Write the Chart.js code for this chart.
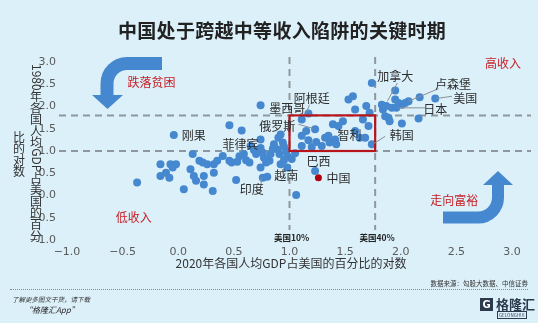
<!DOCTYPE html>
<html>
<head>
<meta charset="utf-8">
<script src="https://cdn.jsdelivr.net/npm/chart.js@4"></script>
<style>
  body { margin: 0; background: #dcf0fa; font-family: "Noto Sans CJK SC", "Noto Sans", sans-serif; }
  #wrap { position: relative; width: 538px; height: 323px; overflow: hidden; }
  #chart { position: absolute; left: 0; top: 0; }
  .txt { position: absolute; white-space: nowrap; }
  #title { left: 118px; top: 16px; font-size: 19px; font-weight: bold; color: #222; letter-spacing: 0.3px; }
  #rule { left: 10px; top: 289px; width: 518px; border-top: 1px dotted #8a8a8a; }
  #source { right: 10px; top: 278px; font-size: 6.5px; color: #333; }
  #tip1 { left: 12px; top: 294px; font-size: 6.5px; font-style: italic; color: #333; }
  #tip2 { left: 24px; top: 304px; font-size: 8px; font-style: italic; color: #222; }
  #logoBox { left: 480px; top: 298px; width: 13px; height: 13px; background: #2b3a4c; color: #fff; font: bold 10px "DejaVu Sans"; text-align: center; line-height: 13px; }
  #logoTxt { left: 496px; top: 294px; font-size: 13px; font-weight: bold; color: #2b3a4c; }
  #logoSub { left: 497px; top: 311px; font-size: 4.5px; color: #2b3a4c; border: 0.5px solid #2b3a4c; padding: 0 1px; }
</style>
</head>
<body>
<div id="wrap">
  <canvas id="chart" width="538" height="323"></canvas>
  <div class="txt" id="title">中国处于跨越中等收入陷阱的关键时期</div>
  <div class="txt" id="source">数据来源：勾股大数据、中信证券</div>
  <div class="txt" id="rule"></div>
  <div class="txt" id="tip1">了解更多图文干货，请下载</div>
  <div class="txt" id="tip2">“格隆汇App”</div>
  <div class="txt" id="logoBox">G</div>
  <div class="txt" id="logoTxt">格隆汇</div>
  <div class="txt" id="logoSub">GELONGHUI</div>
</div>
<script>
// log of 2020 GDP per capita share of US (x) vs 1980 share (y)
const countryX = [
  -0.37, -0.04, -0.16, -0.11, -0.08, -0.16, -0.07, -0.02, -0.05, 0.05,
  0.13, 0.11, 0.14, 0.19, 0.22, 0.23, 0.23, 0.16, 0.31, 0.26,
  0.32, 0.32, 0.35, 0.40, 0.46, 0.46, 0.52, 0.53, 0.57, 0.59,
  0.61, 0.64, 0.65, 0.70, 0.74, 0.74, 0.74, 0.76, 0.77, 0.79,
  0.74, 0.76, 0.80, 0.82, 0.83, 0.86, 0.89, 0.91, 0.92, 0.94,
  0.95, 0.97, 0.98, 1.06, 1.11, 1.17, 1.11, 1.15, 1.17, 1.11,
  1.23, 1.23, 1.24, 1.20, 1.29, 1.32, 1.35, 1.36, 1.39, 1.41,
  1.42, 1.44, 1.48, 1.53, 1.57, 1.59, 1.59, 1.63, 1.66, 1.69,
  1.71, 1.68, 1.74, 1.74, 1.72, 1.83, 1.84, 1.86, 1.89, 1.90,
  1.87, 1.92, 1.95, 1.95, 1.96, 1.98, 2.01, 2.01, 2.04, 2.07,
  2.16, 2.17, 2.31, 0.90, 0.95, 0.98, 0.92, 1.02, 1.05, 0.85,
  0.68, 0.55, 0.48
];
const countryY = [
  0.29, 1.36, 0.44, 0.51, 0.40, 0.70, 0.70, 0.70, 0.63, 0.14,
  0.93, 0.59, 0.44, 0.78, 0.74, 0.44, 0.25, 0.33, 0.10, 0.70,
  0.70, 0.51, 0.78, 0.89, 1.58, 0.78, 0.35, 0.76, 1.46, 0.93,
  0.79, 0.74, 1.11, 0.93, 2.03, 1.26, 1.07, 0.96, 0.85, 0.74,
  0.63, 0.40, 0.42, 0.78, 0.93, 1.15, 1.04, 0.93, 1.37, 1.19,
  0.79, 1.00, 0.63, 0.01, 1.71, 1.84, 1.34, 1.45, 1.24, 1.11,
  1.49, 0.55, 1.20, 1.09, 1.11, 1.30, 1.34, 1.19, 1.60, 1.26,
  1.15, 1.56, 1.67, 2.16, 2.23, 1.93, 1.45, 1.30, 1.71, 2.01,
  1.56, 1.30, 2.53, 1.15, 1.86, 2.04, 1.93, 1.78, 1.75, 1.67,
  2.01, 1.97, 2.36, 2.16, 1.97, 2.08, 2.04, 1.62, 2.08, 2.12,
  1.73, 2.21, 2.18, 1.30, 1.10, 0.88, 0.70, 0.82, 0.95, 1.05,
  1.02, 0.88, 0.74
];
const chinaX = [1.26];
const chinaY = [0.40];

const tickValues = [-1.0, -0.5, 0.0, 0.5, 1.0, 1.5, 2.0, 2.5, 3.0];

// country names and where they sit (data units)
const countryNames = ["加拿大", "卢森堡", "美国", "日本", "韩国", "阿根廷", "墨西哥", "俄罗斯",
  "智利", "菲律宾", "刚果", "巴西", "越南", "中国", "印度"];
const nameX = [1.95, 2.47, 2.58, 2.31, 2.01, 1.20, 0.98, 0.89, 1.54, 0.56, 0.14, 1.26, 0.97, 1.44, 0.66];
const nameY = [2.68, 2.49, 2.18, 1.93, 1.35, 2.18, 1.95, 1.56, 1.34, 1.15, 1.34, 0.76, 0.44, 0.39, 0.14];

// leader lines x1, y1, x2, y2
const leaders = [
  [1.97, 2.53, 1.88, 2.12],
  [2.34, 2.40, 2.07, 2.12],
  [2.46, 2.23, 2.32, 2.18],
  [2.22, 1.97, 1.98, 1.97],
  [1.86, 1.33, 1.76, 1.17],
  [1.18, 2.04, 1.15, 1.86],
  [1.08, 1.60, 1.21, 1.51],
  [0.745, 0.21, 0.745, 0.40]
];

const zoneNames = ["跌落贫困", "高收入", "低收入", "走向富裕"];
const zoneX = [-0.24, 2.92, -0.40, 2.48];
const zoneY = [2.53, 2.96, -0.49, -0.12];

const refX = [1.0, 1.77];
const refY = [1.0, 1.8];
const refXLabels = ["美国10%", "美国40%"];

const blue = "#4588cf";
const red = "#c62026";

function fmt(v) {
  return v.toFixed(1).replace("-", "−");
}

function verticalText(ctx, text, x, y, size) {
  const runs = text.match(/[0-9A-Za-z]+|./g);
  for (const r of runs) {
    if (/^[0-9A-Za-z]/.test(r)) {
      const w = ctx.measureText(r).width;
      ctx.save();
      ctx.translate(x - size * 0.45, y);
      ctx.rotate(Math.PI / 2);
      ctx.textAlign = "left";
      ctx.textBaseline = "bottom";
      ctx.fillText(r, 0, 0);
      ctx.restore();
      y += w;
    } else {
      ctx.textAlign = "center";
      ctx.textBaseline = "top";
      ctx.fillText(r, x, y);
      y += size * 0.96;
    }
  }
}

// curved block arrow: thick centre line + head
function blockArrow(ctx, pts, r, head, width) {
  ctx.save();
  ctx.strokeStyle = blue;
  ctx.fillStyle = blue;
  ctx.lineWidth = width;
  ctx.lineCap = "butt";
  ctx.beginPath();
  ctx.moveTo(pts[0][0], pts[0][1]);
  ctx.arcTo(pts[1][0], pts[1][1], pts[2][0], pts[2][1], r);
  ctx.lineTo(pts[2][0], pts[2][1]);
  ctx.stroke();
  ctx.beginPath();
  ctx.moveTo(head[0][0], head[0][1]);
  ctx.lineTo(head[1][0], head[1][1]);
  ctx.lineTo(head[2][0], head[2][1]);
  ctx.closePath();
  ctx.fill();
  ctx.restore();
}

const decor = {
  id: "decor",
  beforeDatasetsDraw(chart) {
    const ctx = chart.ctx;
    const xs = chart.scales.x, ys = chart.scales.y;
    ctx.save();
    ctx.strokeStyle = "#8f979e";
    ctx.lineWidth = 2;
    ctx.setLineDash([7, 5]);
    refY.forEach(v => {
      const py = ys.getPixelForValue(v);
      ctx.beginPath(); ctx.moveTo(59, py); ctx.lineTo(531, py); ctx.stroke();
    });
    refX.forEach(v => {
      const px = xs.getPixelForValue(v);
      ctx.beginPath(); ctx.moveTo(px, 57); ctx.lineTo(px, 230); ctx.stroke();
    });
    ctx.restore();

    // arrows
    blockArrow(ctx, [[162, 63.5], [107, 63.5], [107, 96]], 20,
      [[92, 95], [123, 95], [107.5, 109]], 13);
    blockArrow(ctx, [[443, 217.5], [498, 217.5], [498, 184]], 20,
      [[483, 185], [513, 185], [498, 171]], 12);
  },
  afterDatasetsDraw(chart) {
    const ctx = chart.ctx;
    const xs = chart.scales.x, ys = chart.scales.y;
    const px = v => xs.getPixelForValue(v), py = v => ys.getPixelForValue(v);
    ctx.save();
    // middle-income box
    ctx.strokeStyle = "#b8141c";
    ctx.lineWidth = 2.2;
    ctx.strokeRect(px(refX[0]), py(refY[1]), px(refX[1]) - px(refX[0]), py(refY[0]) - py(refY[1]));

    // leader lines
    ctx.strokeStyle = "#8a8f94";
    ctx.lineWidth = 1;
    leaders.forEach(l => {
      ctx.beginPath(); ctx.moveTo(px(l[0]), py(l[1])); ctx.lineTo(px(l[2]), py(l[3])); ctx.stroke();
    });

    ctx.textAlign = "center";
    ctx.textBaseline = "middle";
    ctx.font = "12px 'Noto Sans CJK SC'";
    ctx.fillStyle = "#2d2d2d";
    countryNames.forEach((n, i) => ctx.fillText(n, px(nameX[i]), py(nameY[i])));

    ctx.fillStyle = red;
    ctx.font = "12px 'Noto Sans CJK SC'";
    zoneNames.forEach((n, i) => ctx.fillText(n, px(zoneX[i]), py(zoneY[i])));

    ctx.fillStyle = "#222";
    ctx.font = "bold 8.5px 'Noto Sans CJK SC'";
    refXLabels.forEach((n, i) => ctx.fillText(n, px(refX[i]) + 2, 238));

    // axis titles
    ctx.fillStyle = "#333";
    ctx.font = "12px 'Noto Sans CJK SC'";
    ctx.fillText("2020年各国人均GDP占美国的百分比的对数", 291, 263);
    verticalText(ctx, "1980年各国人均GDP占美国的百分", 36, 64, 12);
    verticalText(ctx, "比的对数", 19, 131, 12);
    ctx.restore();
  }
};

Chart.defaults.font.family = "'DejaVu Sans', sans-serif";

new Chart(document.getElementById("chart"), {
  type: "scatter",
  data: {
    datasets: [
      {
        data: countryX.map((x, i) => ({ x: x, y: countryY[i] })),
        backgroundColor: blue,
        borderWidth: 0,
        pointRadius: 4
      },
      {
        data: chinaX.map((x, i) => ({ x: x, y: chinaY[i] })),
        backgroundColor: "#b00010",
        borderWidth: 0,
        pointRadius: 3.5
      }
    ]
  },
  options: {
    responsive: false,
    animation: false,
    devicePixelRatio: 1,
    layout: { padding: { top: 62, right: 26, left: 0, bottom: 0 } },
    plugins: { legend: { display: false }, tooltip: { enabled: false } },
    scales: {
      x: {
        min: -1, max: 3,
        afterBuildTicks: s => { s.ticks = tickValues.map(v => ({ value: v })); },
        afterFit: s => { s.height = 83; },
        grid: { display: false, drawTicks: false },
        border: { display: false },
        ticks: { callback: v => fmt(v), color: "#5a5a5a", font: { size: 11 }, padding: 6, maxRotation: 0 }
      },
      y: {
        min: -1, max: 3,
        afterBuildTicks: s => { s.ticks = tickValues.map(v => ({ value: v })); },
        afterFit: s => { s.width = 67; },
        grid: { display: false, drawTicks: false },
        border: { display: false },
        ticks: { callback: v => fmt(v), color: "#5a5a5a", font: { size: 11 }, padding: 11 }
      }
    }
  },
  plugins: [decor]
});
</script>
</body>
</html>
